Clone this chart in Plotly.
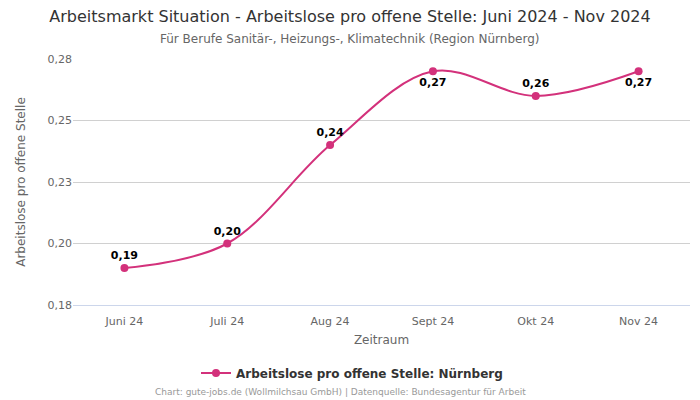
import plotly.graph_objects as go

categories = ["Juni 24", "Juli 24", "Aug 24", "Sept 24", "Okt 24", "Nov 24"]
values = [0.19, 0.20, 0.24, 0.27, 0.26, 0.27]
label_pos = ["top center", "top center", "top center", "bottom center", "top center", "bottom center"]
tick_vals = [0.175, 0.2, 0.225, 0.25, 0.275]
tick_text = ["0,18", "0,20", "0,23", "0,25", "0,28"]

color = "#d3317b"
font = "DejaVu Sans, sans-serif"

labels = [f"{v:.2f}".replace(".", ",") for v in values]

L, R, T, B = 73, 10, 59, 95
pw, ph = 700 - L - R, 400 - T - B
cx = (350 - L) / pw

fig = go.Figure()
fig.add_trace(go.Scatter(
    x=categories, y=values, mode="lines+markers+text",
    name="Arbeitslose pro offene Stelle: Nürnberg",
    line=dict(color=color, width=2, shape="spline", smoothing=1),
    marker=dict(color=color, size=8),
    text=labels, textposition=label_pos,
    textfont=dict(family=font, size=11, color="#000000", weight="bold"),
    cliponaxis=False,
))

fig.update_layout(
    width=700, height=400,
    margin=dict(l=L, r=R, t=T, b=B),
    paper_bgcolor="white", plot_bgcolor="white",
    font=dict(family=font, color="#666666"),
    title=dict(
        text="Arbeitsmarkt Situation - Arbeitslose pro offene Stelle: Juni 2024 - Nov 2024",
        x=0.5, xanchor="center", y=0.958, yanchor="middle",
        font=dict(size=16, color="#333333", family=font),
    ),
    xaxis=dict(
        type="category", range=[-0.5, 5.5],
        title=dict(text="Zeitraum", font=dict(size=12, color="#666666"), standoff=8),
        tickfont=dict(size=11, color="#666666"),
        showgrid=False, showline=True, linecolor="#ccd6eb", linewidth=1,
        ticks="outside", ticklen=6, tickcolor="rgba(0,0,0,0)",
    ),
    yaxis=dict(
        range=[0.175, 0.275], tickvals=tick_vals, ticktext=tick_text,
        title=dict(text="Arbeitslose pro offene Stelle", font=dict(size=12, color="#666666"), standoff=19),
        tickfont=dict(size=11, color="#666666"),
        showgrid=True, gridcolor="#d0d0d0", gridwidth=1,
        zeroline=False, showline=False,
    ),
    showlegend=True,
    legend=dict(
        orientation="h", x=(352 - L) / pw, xanchor="center", y=-(373 - 305) / ph, yanchor="middle",
        font=dict(size=12, color="#333333", family=font, weight="bold"),
        itemwidth=30,
    ),
    annotations=[
        dict(text="Für Berufe Sanitär-, Heizungs-, Klimatechnik (Region Nürnberg)",
             xref="paper", yref="paper", x=(349 - L) / pw, xanchor="center",
             y=1.0 + (59 - 39) / ph, yanchor="middle", showarrow=False,
             font=dict(size=12, color="#666666", family=font)),
        dict(text="Chart: gute-jobs.de (Wollmilchsau GmbH) | Datenquelle: Bundesagentur für Arbeit",
             xref="paper", yref="paper", x=(340 - L) / pw, xanchor="center",
             y=-(392 - 305) / ph, yanchor="middle", showarrow=False,
             font=dict(size=9, color="#999999", family=font)),
    ],
)

fig.write_html("out.html")
